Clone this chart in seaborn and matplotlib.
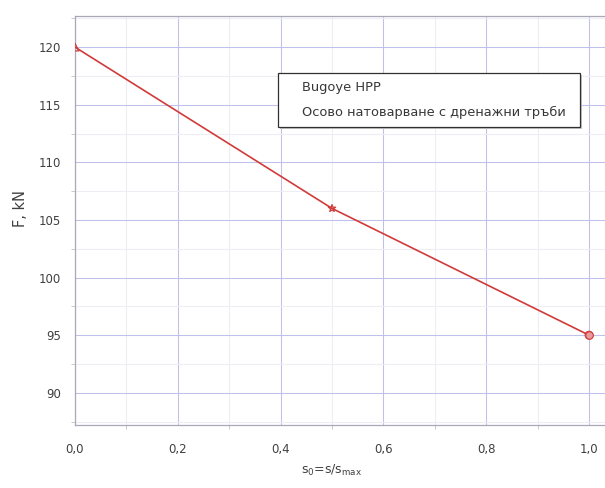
import matplotlib
matplotlib.use("Agg")
import matplotlib.pyplot as plt
import seaborn as sns
import pandas as pd
from matplotlib.ticker import MultipleLocator, FixedLocator, FuncFormatter
from matplotlib.patches import Rectangle

# data
s_rel = [0.0, 0.5, 1.0]
force = [120.0, 106.0, 95.0]
point_kind = ["start", "mid", "end"]
legend_labels = ["Bugoye HPP", "Осово натоварване с дренажни тръби"]

sns.set_theme(style="white")
plt.rcParams['font.family'] = ['DejaVu Sans']

df = pd.DataFrame({"s": s_rel, "F": force, "kind": point_kind})

fig = plt.figure(figsize=(6.05, 4.88), dpi=100)
W, H = 605, 488
left_px, right_px, top_px, bot_px = 75, 640, 16, 425
ax = fig.add_axes([left_px / W, 1 - bot_px / H, (right_px - left_px) / W, (bot_px - top_px) / H])

x_per_unit = 514.0
ax.set_xlim(0, (right_px - left_px) / x_per_unit)
ax.set_ylim(87.2, 122.7)

red = "#d23a3a"
sns.lineplot(data=df, x="s", y="F", ax=ax, color=red, lw=1.2, legend=False, zorder=3)
sns.scatterplot(data=df, x="s", y="F", style="kind",
                markers={"start": "^", "mid": "*", "end": "o"},
                s=30, facecolor="none", edgecolor=red, ax=ax,
                legend=False, zorder=4, linewidth=0.9)
sub = df[df["kind"] == "end"]
sns.scatterplot(data=sub, x="s", y="F", marker="o", s=30, color="#e89a9a",
                edgecolor=red, ax=ax, legend=False, zorder=5, linewidth=0.8)

ax.xaxis.set_major_locator(MultipleLocator(0.2))
ax.xaxis.set_minor_locator(FixedLocator([0.1, 0.3, 0.5, 0.7, 0.9]))
ax.yaxis.set_major_locator(MultipleLocator(5))
ax.yaxis.set_minor_locator(FixedLocator([87.5, 92.5, 97.5, 102.5, 107.5, 112.5, 117.5, 122.5]))
ax.xaxis.set_major_formatter(FuncFormatter(lambda v, p: f"{v:.1f}".replace(".", ",")))
ax.yaxis.set_major_formatter(FuncFormatter(lambda v, p: f"{v:.0f}"))

ax.grid(which="major", color="#c0c0ec", lw=0.75)
ax.grid(which="minor", color="#ededf3", lw=0.75)
ax.set_axisbelow(True)

for side in ["left", "bottom", "top"]:
    ax.spines[side].set_color("#a8a8b8")
    ax.spines[side].set_linewidth(0.9)
ax.spines["right"].set_visible(False)

ax.tick_params(axis="both", which="major", labelsize=8.5, labelcolor="#404040",
               color="#a0a0b0", length=4, width=0.8, direction="out")
ax.tick_params(axis="both", which="minor", color="#c0c0c8", length=3, width=0.6,
               direction="out", left=True, bottom=True)
ax.tick_params(axis="x", which="major", pad=9)
ax.tick_params(axis="y", which="major", pad=6)

ax.set_xlabel("")
ax.set_ylabel("F, kN", fontsize=10.5, color="#404040")
ax.yaxis.set_label_coords((28 - left_px) / (right_px - left_px), 0.53)

fig.text(332 / W, 1 - 470 / H, r"s$_0$=s/s$_{\mathrm{max}}$", fontsize=9,
         color="#404040", ha="center", va="center")

# legend-style box
shadow = Rectangle((280 / W, 1 - 129 / H), 302 / W, 54 / H, transform=fig.transFigure,
                   facecolor="#c8c8c8", edgecolor="none", zorder=9)
box = Rectangle((278 / W, 1 - 127 / H), 302 / W, 54 / H, transform=fig.transFigure,
                facecolor="white", edgecolor="#303030", lw=0.9, zorder=10)
fig.add_artist(shadow)
fig.add_artist(box)
for lbl, ypx in zip(legend_labels, [88, 112]):
    fig.text(302 / W, 1 - ypx / H, lbl, fontsize=9.4, color="#383838",
             ha="left", va="center", zorder=11)

fig.savefig("out.png", dpi=100)
